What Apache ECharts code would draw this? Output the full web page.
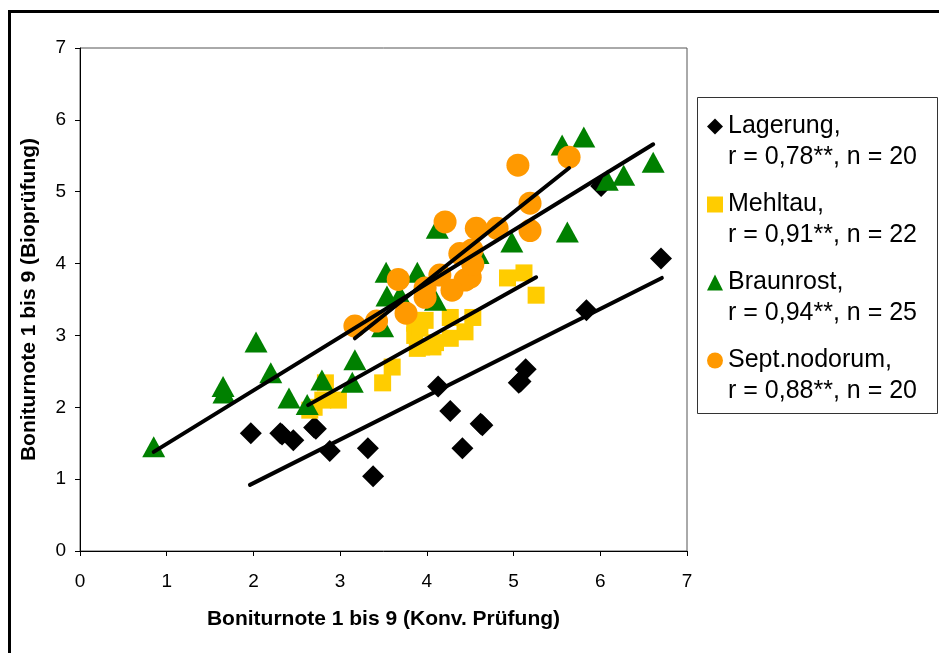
<!DOCTYPE html>
<html>
<head>
<meta charset="utf-8">
<script src="https://cdn.jsdelivr.net/npm/echarts@6/dist/echarts.min.js"></script>
<style>
  html, body, #main { width: 100%; height: 100%; margin: 0; background: #fff; }
</style>
</head>
<body>
<div id="main"></div>
<script>
// x = Konv. Prüfung, y = Bioprüfung
var lagerung = [
  [1.97, 1.64], [2.31, 1.64], [2.33, 1.62], [2.46, 1.54], [2.70, 1.72],
  [2.88, 1.39], [3.32, 1.43], [3.38, 1.04], [4.13, 2.29], [4.27, 1.95],
  [4.41, 1.43], [4.64, 1.75], [4.62, 1.77], [5.06, 2.34], [5.08, 2.36],
  [5.14, 2.53], [5.84, 3.35], [6.01, 5.08], [6.70, 4.07], [2.72, 1.70]
];
var mehltau = [
  [2.65, 1.96], [2.70, 2.00], [2.80, 2.10], [2.83, 2.34], [2.98, 2.10],
  [3.49, 2.34], [3.60, 2.56], [3.89, 2.82], [3.86, 3.17], [3.98, 3.21],
  [3.94, 2.84], [4.07, 2.84], [3.86, 3.00], [3.92, 3.10], [4.10, 2.90],
  [4.27, 3.25], [4.27, 2.96], [4.44, 3.05], [4.53, 3.25], [4.93, 3.80],
  [5.12, 3.87], [5.26, 3.56]
];
var braunrost = [
  [0.85, 1.45], [1.65, 2.29], [1.66, 2.20], [2.03, 2.91], [2.20, 2.48],
  [2.41, 2.13], [2.62, 2.04], [2.79, 2.38], [3.17, 2.66], [3.14, 2.35],
  [3.49, 3.12], [3.54, 3.55], [3.53, 3.88], [3.69, 3.56], [3.89, 3.88],
  [4.12, 4.49], [4.10, 3.49], [4.59, 4.14], [4.98, 4.30], [5.62, 4.44],
  [5.56, 5.65], [5.81, 5.76], [6.08, 5.16], [6.27, 5.23], [6.61, 5.41]
];
var septNodorum = [
  [3.17, 3.13], [3.42, 3.20], [3.67, 3.78], [3.76, 3.31], [3.98, 3.53],
  [3.98, 3.66], [4.15, 3.84], [4.21, 4.58], [4.29, 3.63], [4.38, 4.14],
  [4.44, 3.77], [4.50, 3.81], [4.52, 4.19], [4.53, 3.99], [4.57, 4.49],
  [4.81, 4.49], [5.05, 5.37], [5.19, 4.84], [5.19, 4.46], [5.64, 5.48]
];

// trend lines (start / end)
var trendLagerung = [[1.96, 0.92], [6.71, 3.80]];
var trendMehltau = [[2.63, 2.03], [5.26, 3.81]];
var trendBraunrost = [[0.85, 1.38], [6.61, 5.66]];
var trendSept = [[3.17, 2.96], [5.64, 5.33]];

var seriesNames = ['Lagerung', 'Mehltau', 'Braunrost', 'Sept.nodorum'];
var statsText = ['r = 0,78**, n = 20', 'r = 0,91**, n = 22', 'r = 0,94**, n = 25', 'r = 0,88**, n = 20'];

var chart = echarts.init(document.getElementById('main'));

function trend(data) {
  return {
    type: 'line',
    data: data,
    symbol: 'none',
    silent: true,
    z: 5,
    lineStyle: { color: '#000', width: 4, cap: 'round' }
  };
}

var font = 'Liberation Sans, Arial, sans-serif';

chart.setOption({
  animation: false,
  textStyle: { fontFamily: font },
  graphic: [
    {
      type: 'rect',
      shape: { x: 9.5, y: 11.5, width: 1000, height: 800 },
      style: { fill: 'none', stroke: '#000', lineWidth: 3 },
      silent: true
    },
    {
      type: 'rect',
      shape: { x: 697.5, y: 97.5, width: 240, height: 316 },
      style: { fill: '#fff', stroke: '#333', lineWidth: 1 },
      z: -1,
      silent: true
    }
  ],
  grid: {
    left: 80, top: 48, right: 252, bottom: 102,
    show: true, borderColor: '#555', borderWidth: 1
  },
  legend: {
    data: seriesNames,
    orient: 'vertical',
    left: 697,
    top: 80,
    padding: [0, 0, 0, 10],
    itemWidth: 16,
    itemHeight: 16,
    itemGap: -15,
    textStyle: { fontFamily: font, fontSize: 25, color: '#000', lineHeight: 31 },
    formatter: function (name) {
      return '\n' + name + ',\n' + statsText[seriesNames.indexOf(name)];
    }
  },
  xAxis: {
    type: 'value',
    min: 0, max: 7, interval: 1,
    name: 'Boniturnote 1 bis 9 (Konv. Prüfung)',
    nameLocation: 'middle',
    nameGap: 58,
    nameTextStyle: { fontFamily: font, fontSize: 21, fontWeight: 'bold', color: '#000' },
    axisLine: { lineStyle: { color: '#000', width: 1 } },
    axisTick: { show: true, length: 5, lineStyle: { color: '#000' } },
    axisLabel: { fontSize: 19, color: '#000', margin: 21 },
    splitLine: { show: false }
  },
  yAxis: {
    type: 'value',
    min: 0, max: 7, interval: 1,
    name: 'Boniturnote 1 bis 9 (Bioprüfung)',
    nameLocation: 'middle',
    nameGap: 40,
    nameTextStyle: { fontFamily: font, fontSize: 21, fontWeight: 'bold', color: '#000' },
    axisLine: { show: true, lineStyle: { color: '#000', width: 1 } },
    axisTick: { show: true, length: 5, lineStyle: { color: '#000' } },
    axisLabel: { fontSize: 19, color: '#000', margin: 14 },
    splitLine: { show: false }
  },
  series: [
    {
      name: 'Lagerung', type: 'scatter', data: lagerung,
      symbol: 'diamond', symbolSize: 22,
      itemStyle: { color: '#000', opacity: 1 }
    },
    {
      name: 'Mehltau', type: 'scatter', data: mehltau,
      symbol: 'rect', symbolSize: 17,
      itemStyle: { color: '#FFCC00', opacity: 1 }
    },
    {
      name: 'Braunrost', type: 'scatter', data: braunrost,
      symbol: 'triangle', symbolSize: [23, 21],
      itemStyle: { color: '#008000', opacity: 1 }
    },
    {
      name: 'Sept.nodorum', type: 'scatter', data: septNodorum,
      symbol: 'circle', symbolSize: 23,
      itemStyle: { color: '#FF9900', opacity: 1 }
    },
    trend(trendLagerung),
    trend(trendMehltau),
    trend(trendBraunrost),
    trend(trendSept)
  ]
});
</script>
</body>
</html>
